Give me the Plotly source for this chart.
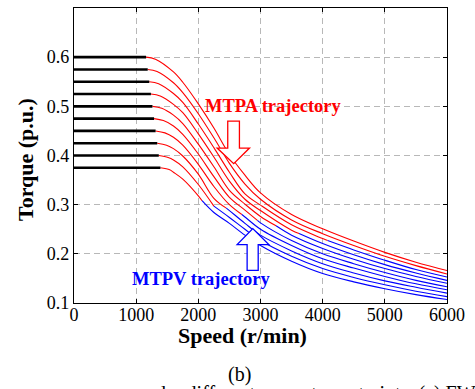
import plotly.graph_objects as go

# ---------------- data ----------------
TORQUE_LEVELS = [0.600, 0.575, 0.550, 0.525, 0.500, 0.475, 0.450, 0.425, 0.400, 0.375]
BASE_SPEEDS = [1160, 1186, 1211, 1237, 1262, 1288, 1313, 1339, 1364, 1390]
KNEE_SPEEDS = [1310, 1336, 1361, 1387, 1412, 1438, 1463, 1489, 1514, 1540]
KNEE_TORQUES = [0.596, 0.571, 0.546, 0.521, 0.496, 0.471, 0.446, 0.421, 0.396, 0.371]
SPEED_GRID = [1600, 1750, 2000, 2250, 2500, 2750, 3000, 3500, 4000, 4500, 5000, 5500, 6000]
CURVE_1 = [0.570, 0.549, 0.505, 0.456, 0.402, 0.360, 0.324, 0.280, 0.251, 0.226, 0.203, 0.183, 0.166]
CURVE_2 = [0.548, 0.528, 0.485, 0.436, 0.384, 0.342, 0.311, 0.269, 0.241, 0.217, 0.195, 0.176, 0.159]
CURVE_3 = [0.526, 0.508, 0.464, 0.416, 0.366, 0.322, 0.299, 0.259, 0.231, 0.208, 0.187, 0.168, 0.153]
CURVE_4 = [0.504, 0.487, 0.444, 0.397, 0.348, 0.311, 0.288, 0.248, 0.221, 0.198, 0.178, 0.161, 0.146]
CURVE_5 = [0.482, 0.465, 0.423, 0.377, 0.329, 0.301, 0.276, 0.238, 0.211, 0.189, 0.170, 0.154, 0.140]
CURVE_6 = [0.460, 0.443, 0.403, 0.357, 0.315, 0.289, 0.263, 0.227, 0.200, 0.180, 0.162, 0.146, 0.133]
CURVE_7 = [0.437, 0.421, 0.382, 0.337, 0.300, 0.275, 0.250, 0.217, 0.190, 0.171, 0.154, 0.139, 0.127]
CURVE_8 = [0.414, 0.399, 0.362, 0.313, 0.288, 0.262, 0.238, 0.206, 0.180, 0.161, 0.145, 0.132, 0.120]
CURVE_9 = [0.391, 0.377, 0.341, 0.297, 0.274, 0.250, 0.227, 0.195, 0.170, 0.152, 0.137, 0.124, 0.113]
CURVE_10 = [0.366, 0.352, 0.318, 0.284, 0.262, 0.238, 0.217, 0.185, 0.160, 0.143, 0.129, 0.117, 0.107]
CURVES = [CURVE_1, CURVE_2, CURVE_3, CURVE_4, CURVE_5, CURVE_6, CURVE_7, CURVE_8, CURVE_9, CURVE_10]
# MTPA -> MTPV switching point of every curve (None: stays on MTPA/FW)
TRANSITION_SPEEDS = [None, None, 4080, 3620, 3250, 2950, 2700, 2450, 2250, 2060]
TRANSITION_TORQUES = [None, None, 0.227, 0.2415, 0.257, 0.268, 0.280, 0.293, 0.297, 0.308]

X_TICKS = [0, 1000, 2000, 3000, 4000, 5000, 6000]
Y_TICKS = [0.1, 0.2, 0.3, 0.4, 0.5, 0.6, 0.7]
Y_TICK_TEXT = ["0.1", "0.2", "0.3", "0.4", "0.5", "0.6", "0.7"]

RED = "#ff0000"
BLUE = "#0000ff"
FONT = "Liberation Serif"

W, H = 475, 389
L, R, T, B = 74, 28, 8, 86
pw, ph = W - L - R, H - T - B

fig = go.Figure()

for i, t0 in enumerate(TORQUE_LEVELS):
    nb = BASE_SPEEDS[i]
    xs = [nb, KNEE_SPEEDS[i]] + SPEED_GRID
    ys = [t0, KNEE_TORQUES[i]] + CURVES[i]
    ts = TRANSITION_SPEEDS[i]
    if ts is None:
        rx, ry, bx, by = xs, ys, [], []
    else:
        tt = TRANSITION_TORQUES[i]
        rx = [x for x in xs if x < ts] + [ts]
        ry = [y for x, y in zip(xs, ys) if x < ts] + [tt]
        bx = [ts] + [x for x in xs if x > ts]
        by = [tt] + [y for x, y in zip(xs, ys) if x > ts]
    fig.add_trace(go.Scatter(x=rx, y=ry, mode="lines",
                             line=dict(color=RED, width=1.1, shape="spline"),
                             showlegend=False, hoverinfo="skip"))
    if bx:
        fig.add_trace(go.Scatter(x=bx, y=by, mode="lines",
                                 line=dict(color=BLUE, width=1.1, shape="spline"),
                                 showlegend=False, hoverinfo="skip"))
    fig.add_trace(go.Scatter(x=[0, nb], y=[t0, t0], mode="lines",
                             line=dict(color="black", width=2.6),
                             showlegend=False, hoverinfo="skip"))

# outlined block arrows
mtpa_arrow = "M 2473 0.470 L 2661 0.470 L 2661 0.4152 L 2823 0.4152 L 2569 0.3835 L 2302 0.4152 L 2473 0.4152 Z"
mtpv_arrow = "M 2785 0.1665 L 2963 0.1665 L 2963 0.2188 L 3134 0.2188 L 2876 0.2513 L 2624 0.2188 L 2785 0.2188 Z"
fig.add_shape(type="path", path=mtpa_arrow, xref="x", yref="y",
              line=dict(color=RED, width=1.3), fillcolor="white")
fig.add_shape(type="path", path=mtpv_arrow, xref="x", yref="y",
              line=dict(color=BLUE, width=1.3), fillcolor="white")


def add_px_text(text, px, py, size, color="black", bold=False, angle=0,
                xanchor="center", yanchor="middle"):
    fig.add_annotation(text=f"<b>{text}</b>" if bold else text,
                       x=(px - L) / pw, y=1 - (py - T) / ph, xref="paper", yref="paper",
                       showarrow=False, textangle=angle, xanchor=xanchor, yanchor=yanchor,
                       font=dict(family=FONT, size=size, color=color))


add_px_text("MTPA trajectory", 273, 105.5, 18.5, color=RED, bold=True)
add_px_text("MTPV trajectory", 201.5, 278.5, 18.5, color=BLUE, bold=True)
add_px_text("Speed (r/min)", 242, 335, 22, bold=True)
add_px_text("Torque (p.u.)", 25, 160, 22, bold=True, angle=-90)
add_px_text("(b)", 239, 374, 20)
add_px_text("ue curves under different current constraints. (a) FW", 478, 379.5, 20,
            xanchor="right", yanchor="top")

fig.update_layout(
    width=W, height=H,
    margin=dict(l=L, r=R, t=T, b=B),
    paper_bgcolor="white", plot_bgcolor="white",
    font=dict(family=FONT, size=18, color="black"),
    showlegend=False,
)

axis_common = dict(
    showline=True, linecolor="black", linewidth=1.2, mirror="ticks",
    ticks="inside", ticklen=4, tickcolor="black", tickwidth=1,
    showgrid=True, gridcolor="#b8b8b8", gridwidth=1, griddash="6px,4px",
    zeroline=False,
    tickfont=dict(family=FONT, size=18, color="black"),
)
fig.update_xaxes(range=[0, 6000], tickvals=X_TICKS, ticklabelstandoff=-5, **axis_common)
fig.update_yaxes(range=[0.1, 0.7], tickvals=Y_TICKS, ticktext=Y_TICK_TEXT, **axis_common)

fig.write_html("out.html")
